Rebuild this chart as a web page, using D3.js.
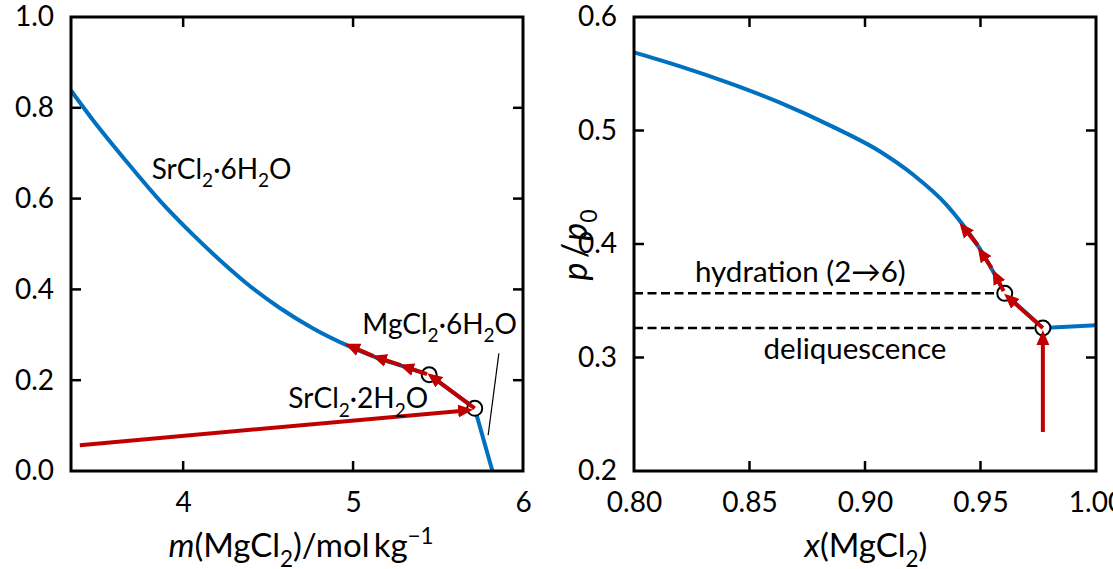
<!DOCTYPE html>
<html>
<head>
<meta charset="utf-8">
<script src="https://cdn.jsdelivr.net/npm/d3@7"></script>
<style>
  body { margin: 0; background: #fff; }
  svg text { font-family: Lato, "Open Sans", sans-serif; fill: #000; }
</style>
</head>
<body>
<div id="chart"></div>
<script>
// ---- data ----
// left panel: SrCl2.6H2O branch, m(MgCl2) vs p/p0
let leftM = [3.34, 3.471, 3.668, 3.864, 4.059, 4.256, 4.374, 4.569, 4.765, 4.969, 5.13, 5.30, 5.448];
let leftP = [0.838, 0.772, 0.681, 0.595, 0.520, 0.451, 0.413, 0.359, 0.314, 0.276, 0.251, 0.230, 0.212];
// straight part after the first point: MgCl2.6H2O / SrCl2.2H2O lines
let leftKinkM = [5.448, 5.716, 5.82];
let leftKinkP = [0.212, 0.138, 0.0];
let leftPointsM = [5.448, 5.716];
let leftPointsP = [0.212, 0.138];
// red arrows: [x1, y1, x2, y2]
let leftArrows = [
    [3.392, 0.0567, 5.665, 0.1335],
    [5.716, 0.138, 5.47, 0.206],
    [5.435, 0.2135, 5.31, 0.229],
    [5.28, 0.233, 5.15, 0.249],
    [5.12, 0.253, 4.99, 0.274]
];
let leftPointer = [5.858, 0.259, 5.795, 0.079];
let leftXTicks = [4, 5, 6];
let leftYTicks = [0, 0.2, 0.4, 0.6, 0.8, 1.0];

// right panel: x(MgCl2) vs p/p0
let rightX = [0.80, 0.82, 0.8416, 0.8632, 0.8848, 0.9065, 0.9209, 0.9353, 0.9418, 0.9498, 0.9605];
let rightP = [0.5688, 0.5565, 0.5415, 0.5245, 0.5045, 0.4815, 0.4610, 0.4345, 0.4185, 0.3955, 0.3565];
let rightKinkX = [0.9605, 0.977, 1.0];
let rightKinkP = [0.3565, 0.326, 0.3285];
let rightPointsX = [0.9605, 0.977];
let rightPointsP = [0.3565, 0.326];
let rightArrows = [
    [0.977, 0.2344, 0.977, 0.318],
    [0.977, 0.326, 0.9625, 0.352],
    [0.9600, 0.3585, 0.9566, 0.372],
    [0.9548, 0.379, 0.9505, 0.392],
    [0.9488, 0.399, 0.9428, 0.414]
];
let hydrationP = 0.3565;
let deliquescenceP = 0.326;
let rightXTicks = [0.80, 0.85, 0.90, 0.95, 1.00];
let rightYTicks = [0.2, 0.3, 0.4, 0.5, 0.6];

// ---- layout ----
let svgWidth = 1113;
let svgHeight = 569;
let blue = "#0070c0";
let red = "#c00000";
let tickFont = 28;
let labelFont = 28;
let titleFont = 33;

let svg = d3.select("#chart").append("svg")
    .attr("width", svgWidth)
    .attr("height", svgHeight);

svg.append("defs").append("marker")
    .attr("id", "head")
    .attr("markerUnits", "userSpaceOnUse")
    .attr("viewBox", "0 -7 15 14")
    .attr("markerWidth", 15)
    .attr("markerHeight", 14)
    .attr("refX", 8)
    .attr("refY", 0)
    .attr("orient", "auto")
    .append("path")
    .attr("d", "M0,-6.5L15,0L0,6.5Z")
    .attr("fill", red);

// writes text made of pieces: [string, "sub" | "sup" | "i" | ""]
function richText(g, x, y, parts, size, anchor) {
    let t = g.append("text")
        .attr("x", x)
        .attr("y", y)
        .attr("font-size", size)
        .attr("text-anchor", anchor || "start");
    let shift = 0;
    parts.forEach(p => {
        let s = t.append("tspan").text(p[0]);
        let want = 0;
        if (p[1] === "sub") { want = 0.3 * size; s.attr("font-size", size * 0.68); }
        if (p[1] === "sup") { want = -0.4 * size; s.attr("font-size", size * 0.68); }
        if (p[1] === "i") s.attr("font-style", "italic");
        if (want !== shift) { s.attr("dy", want - shift); shift = want; }
    });
    return t;
}

function drawFrame(g, x, y, xTicks, yTicks, xFmt, yFmt) {
    let [x0, x1] = x.range();
    let [y0, y1] = y.range();
    let inner = d => d > x.domain()[0] + 1e-9 && d < x.domain()[1] - 1e-9;
    let innerY = d => d > y.domain()[0] + 1e-9 && d < y.domain()[1] - 1e-9;

    // tick labels
    let bx = g.append("g").attr("transform", `translate(0,${y0})`)
        .call(d3.axisBottom(x).tickValues(xTicks).tickSize(0).tickPadding(23).tickFormat(xFmt));
    let ly = g.append("g").attr("transform", `translate(${x0},0)`)
        .call(d3.axisLeft(y).tickValues(yTicks).tickSize(0).tickPadding(17).tickFormat(yFmt));
    [bx, ly].forEach(a => {
        a.select(".domain").remove();
        a.attr("font-family", null).attr("font-size", null);
        a.selectAll("text").attr("font-size", tickFont);
    });
    bx.selectAll("text").attr("dy", "0.66em");

    // inward ticks on all four sides
    let ticks = g.append("g").attr("stroke", "#000").attr("stroke-width", 2.5);
    xTicks.filter(inner).forEach(d => {
        ticks.append("line").attr("x1", x(d)).attr("x2", x(d)).attr("y1", y0).attr("y2", y0 - 10);
        ticks.append("line").attr("x1", x(d)).attr("x2", x(d)).attr("y1", y1).attr("y2", y1 + 10);
    });
    yTicks.filter(innerY).forEach(d => {
        ticks.append("line").attr("y1", y(d)).attr("y2", y(d)).attr("x1", x0).attr("x2", x0 + 10);
        ticks.append("line").attr("y1", y(d)).attr("y2", y(d)).attr("x1", x1).attr("x2", x1 - 10);
    });

    g.append("rect")
        .attr("x", x0).attr("y", y1)
        .attr("width", x1 - x0).attr("height", y0 - y1)
        .attr("fill", "none").attr("stroke", "#000").attr("stroke-width", 3);
}

function drawCurve(g, xs, ys, x, y, curve, clip) {
    let line = d3.line()
        .x(d => x(d[0]))
        .y(d => y(d[1]))
        .curve(curve);
    let p = g.append("path")
        .datum(xs.map((v, i) => [v, ys[i]]))
        .attr("d", line)
        .attr("fill", "none")
        .attr("stroke", blue)
        .attr("stroke-width", 4)
        .attr("stroke-linejoin", "round");
    if (clip) p.attr("clip-path", clip);
}

function drawArrows(g, arrows, x, y) {
    g.append("g").selectAll("line")
        .data(arrows)
        .enter()
        .append("line")
        .attr("x1", d => x(d[0])).attr("y1", d => y(d[1]))
        .attr("x2", d => x(d[2])).attr("y2", d => y(d[3]))
        .attr("stroke", red)
        .attr("stroke-width", 4)
        .attr("marker-end", "url(#head)");
}

function drawPoints(g, xs, ys, x, y) {
    g.append("g").selectAll("circle")
        .data(xs)
        .enter()
        .append("circle")
        .attr("cx", d => x(d))
        .attr("cy", (d, i) => y(ys[i]))
        .attr("r", 7.5)
        .attr("fill", "#fff")
        .attr("stroke", "#000")
        .attr("stroke-width", 2);
}

/***** left panel *****/
let xLeft = d3.scaleLinear().domain([3.34, 6]).range([71, 523]);
let yLeft = d3.scaleLinear().domain([0, 1]).range([471, 17]);
let left = svg.append("g");

left.append("defs").append("clipPath").attr("id", "clipL")
    .append("rect").attr("x", 71).attr("y", 17).attr("width", 452).attr("height", 454);

drawCurve(left, leftM, leftP, xLeft, yLeft, d3.curveMonotoneX, "url(#clipL)");
drawCurve(left, leftKinkM, leftKinkP, xLeft, yLeft, d3.curveLinear, "url(#clipL)");

drawPoints(left, leftPointsM, leftPointsP, xLeft, yLeft);
drawArrows(left, leftArrows, xLeft, yLeft);

left.append("line")
    .attr("x1", xLeft(leftPointer[0])).attr("y1", yLeft(leftPointer[1]))
    .attr("x2", xLeft(leftPointer[2])).attr("y2", yLeft(leftPointer[3]))
    .attr("stroke", "#000").attr("stroke-width", 1.2);

drawFrame(left, xLeft, yLeft, leftXTicks, leftYTicks, d3.format("d"), d3.format(".1f"));

richText(left, xLeft(3.815), yLeft(0.643),
    [["SrCl", ""], ["2", "sub"], ["\u00B76H", ""], ["2", "sub"], ["O", ""]], labelFont);
richText(left, xLeft(6.0) - 6, yLeft(0.3026),
    [["MgCl", ""], ["2", "sub"], ["\u00B76H", ""], ["2", "sub"], ["O", ""]], labelFont, "end");
richText(left, xLeft(5.442), yLeft(0.138),
    [["SrCl", ""], ["2", "sub"], ["\u00B72H", ""], ["2", "sub"], ["O", ""]], labelFont, "end");

richText(left, 301, 557,
    [["m", "i"], ["(MgCl", ""], ["2", "sub"], [")/mol\u2009kg", ""], ["\u22121", "sup"]], titleFont, "middle");

/***** right panel *****/
let xRight = d3.scaleLinear().domain([0.80, 1.0]).range([634, 1096]);
let yRight = d3.scaleLinear().domain([0.2, 0.6]).range([471, 17]);
let right = svg.append("g");

drawCurve(right, rightX, rightP, xRight, yRight, d3.curveMonotoneX);
drawCurve(right, rightKinkX, rightKinkP, xRight, yRight, d3.curveLinear);

// dashed guide lines
right.append("g").selectAll("line")
    .data([[hydrationP, rightPointsX[0]], [deliquescenceP, rightPointsX[1]]])
    .enter()
    .append("line")
    .attr("x1", xRight(0.80)).attr("x2", d => xRight(d[1]))
    .attr("y1", d => yRight(d[0])).attr("y2", d => yRight(d[0]))
    .attr("stroke", "#000")
    .attr("stroke-width", 2.5)
    .attr("stroke-dasharray", "9,4.5");

drawPoints(right, rightPointsX, rightPointsP, xRight, yRight);
drawArrows(right, rightArrows, xRight, yRight);

drawFrame(right, xRight, yRight, rightXTicks, rightYTicks, d3.format(".2f"), d3.format(".1f"));

richText(right, xRight(0.8264), yRight(0.3663), [["hydration (2\u21926)", ""]], 29.5);
richText(right, xRight(0.8561), yRight(0.299), [["deliquescence", ""]], 29.5);

richText(right, 866, 557,
    [["x", "i"], ["(MgCl", ""], ["2", "sub"], [")", ""]], titleFont, "middle");

let yTitle = right.append("g").attr("transform", "translate(587,245) rotate(-90)");
richText(yTitle, 0, 0,
    [["p", "i"], ["\u2009/\u200A", ""], ["p", "i"], ["0", "sub"]], 34, "middle");
</script>
</body>
</html>
